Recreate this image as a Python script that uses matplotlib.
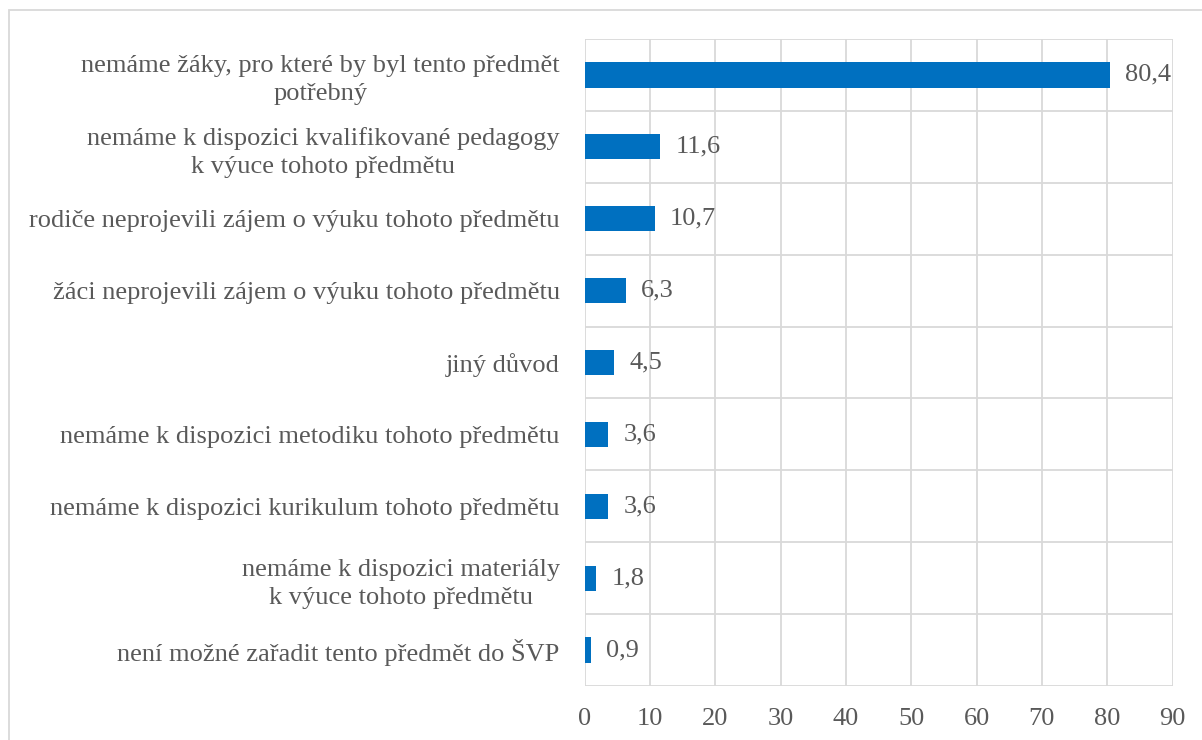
import matplotlib.pyplot as plt
import numpy as np
from matplotlib.patches import Rectangle

plt.rcParams['font.family'] = 'serif'
plt.rcParams['font.serif'] = ['Liberation Serif', 'DejaVu Serif']

# data (top -> bottom)
kategorie = [
    "nemáme žáky, pro které by byl tento předmět\npotřebný",
    "nemáme k dispozici kvalifikované pedagogy\nk výuce tohoto předmětu",
    "rodiče neprojevili zájem o výuku tohoto předmětu",
    "žáci neprojevili zájem o výuku tohoto předmětu",
    "jiný důvod",
    "nemáme k dispozici metodiku tohoto předmětu",
    "nemáme k dispozici kurikulum tohoto předmětu",
    "nemáme k dispozici materiály\nk výuce tohoto předmětu",
    "není možné zařadit tento předmět do ŠVP",
]
hodnoty = [80.4, 11.6, 10.7, 6.3, 4.5, 3.6, 3.6, 1.8, 0.9]
x_ticks = [0, 10, 20, 30, 40, 50, 60, 70, 80, 90]

text_col = '#595959'
grid_col = '#D9D9D9'
bar_col = '#0070C0'
fs = 19

fig = plt.figure(figsize=(12.02, 7.40), dpi=100)
ax = fig.add_axes([0.4864, 0.073, 0.4891, 0.8743])

y = np.arange(len(kategorie))
ax.barh(y, hodnoty, height=0.35, color=bar_col, zorder=3)

for yi, v in zip(y, hodnoty):
    ax.text(v + 2.3, yi, f"{v:.1f}".replace('.', ','), va='center', ha='left',
            fontsize=fs, color=text_col, zorder=4)

ax.set_xlim(0, 90)
ax.set_ylim(len(kategorie) - 0.5, -0.5)
ax.set_xticks(x_ticks)
ax.set_xticklabels([str(t) for t in x_ticks])
ax.set_yticks(y)
ax.set_yticklabels(kategorie, multialignment='center', linespacing=1.35)

ax.tick_params(axis='both', length=0, labelsize=fs, colors=text_col)
ax.tick_params(axis='y', pad=18)
ax.tick_params(axis='x', pad=16)

ax.grid(axis='x', color=grid_col, linewidth=1.3, zorder=0)
for b in np.arange(len(kategorie) + 1) - 0.5:
    ax.axhline(b, color=grid_col, linewidth=1.3, zorder=0)
for s in ax.spines.values():
    s.set_visible(False)

# outer chart frame
fig.patches.append(Rectangle((9 / 1202, -0.1), 1.2, 1 - 10 / 740 + 0.1,
                             transform=fig.transFigure, fill=False,
                             edgecolor=grid_col, linewidth=1.3))

fig.savefig('out.png', dpi=100)
